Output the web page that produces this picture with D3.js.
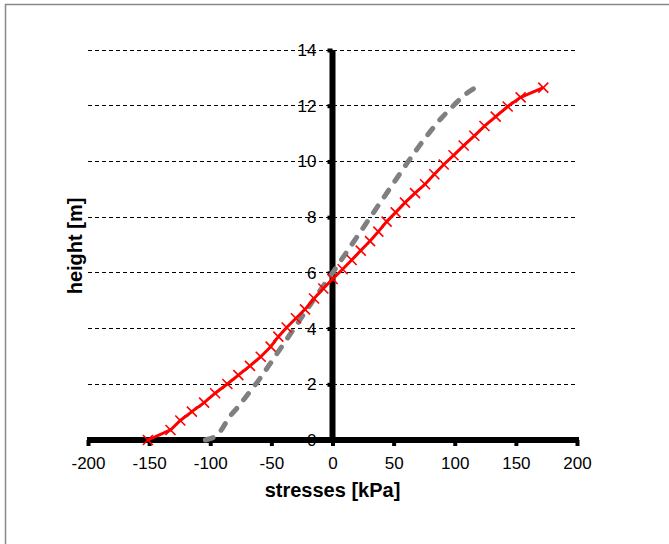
<!DOCTYPE html>
<html>
<head>
<meta charset="utf-8">
<script src="https://cdn.jsdelivr.net/npm/d3@7"></script>
<style>
  body { margin: 0; background: #fff; }
  svg { display: block; }
  svg text { font-family: "Liberation Sans", Arial, sans-serif; }
</style>
</head>
<body>
<svg id="chart" width="669" height="544"></svg>
<script>
// red series (with x markers)
const redStress = [-151, -132.5, -124.5, -115, -105, -96, -86, -77, -67.5, -58.7, -50.6, -44.3, -37.5, -29.9, -22.5, -15.1, -7.5, 0.1,
                   8.3, 15.7, 23.1, 30.7, 37.5, 44.3, 51.7, 59.3, 67.5, 75.7, 83.3, 91, 99, 107.3, 116, 124.3, 133.5, 143.3, 153.9, 172.4];
const redHeight = [0, 0.36, 0.7, 1.02, 1.34, 1.68, 2.01, 2.33, 2.66, 2.99, 3.35, 3.71, 4.04, 4.37, 4.69, 5.08, 5.44, 5.78,
                   6.13, 6.46, 6.8, 7.14, 7.48, 7.84, 8.17, 8.52, 8.86, 9.18, 9.54, 9.89, 10.22, 10.57, 10.92, 11.27, 11.61, 11.97, 12.3, 12.65];

// grey dashed series
const greyStress = [-104, -97, -92, -87.5, -83, -77, -70, -62, -47, -31.5, -16, 0, 15.5, 31, 46.5, 62, 76, 89, 100, 109, 118];
const greyHeight = [0, 0.1, 0.3, 0.6, 0.9, 1.2, 1.6, 2.05, 3.0, 4.0, 5.0, 6.0, 7.0, 8.0, 9.0, 10.0, 10.85, 11.55, 12.05, 12.42, 12.68];

const xTicks = [-200, -150, -100, -50, 0, 50, 100, 150, 200];
const yTicks = [0, 2, 4, 6, 8, 10, 12, 14];

const svg = d3.select("#chart");

// outer frame
svg.append("path")
    .attr("d", "M5.5,700 L5.5,4.5 L700,4.5")
    .attr("fill", "none")
    .attr("stroke", "#888")
    .attr("stroke-width", 1.5);

let x = d3.scaleLinear().domain([-200, 200]).range([88, 577]);
let y = d3.scaleLinear().domain([0, 14]).range([440, 50]);

// grid
svg.append("g").selectAll("line")
    .data(yTicks.filter(d => d > 0))
    .enter().append("line")
    .attr("x1", x(-200)).attr("x2", x(200))
    .attr("y1", d => y(d)).attr("y2", d => y(d))
    .attr("stroke", "#000")
    .attr("stroke-width", 1)
    .attr("stroke-dasharray", "4,3")
    .attr("shape-rendering", "crispEdges");

// y axis ticks + labels (domain drawn later, on top)
let yAxis = d3.axisLeft(y).tickValues(yTicks).tickSize(5).tickSizeOuter(0).tickPadding(11)
    .tickFormat(d => String(d));
let gy = svg.append("g")
    .attr("transform", "translate(" + x(0) + ",0)")
    .call(yAxis);
gy.select(".domain").remove();
gy.selectAll(".tick line").attr("stroke-width", 4).attr("stroke", "#000");
gy.selectAll(".tick text").style("font-size", "17px")
    .style("font-family", "'Liberation Sans', Arial, sans-serif").attr("fill", "#000");

// x axis
let xAxis = d3.axisBottom(x).tickValues(xTicks).tickSize(6).tickSizeOuter(0).tickPadding(11)
    .tickFormat(d => String(d));
let gx = svg.append("g")
    .attr("transform", "translate(0," + y(0) + ")")
    .call(xAxis);
gx.select(".domain").attr("stroke-width", 6).attr("stroke", "#000")
    .attr("d", "M" + (x(-200) - 1) + ",0H" + (x(200) + 2));
gx.selectAll(".tick line").attr("stroke-width", 4).attr("stroke", "#000");
gx.selectAll(".tick text").style("font-size", "17px")
    .style("font-family", "'Liberation Sans', Arial, sans-serif").attr("fill", "#000");

// y axis line
svg.append("line")
    .attr("x1", x(0)).attr("x2", x(0))
    .attr("y1", y(0)).attr("y2", y(14))
    .attr("stroke", "#000")
    .attr("stroke-width", 6);

// grey dashed line
let greyPts = greyStress.map((s, i) => [s, greyHeight[i]]);
svg.append("path")
    .datum(greyPts)
    .attr("fill", "none")
    .attr("stroke", "#808080")
    .attr("stroke-width", 5)
    .attr("stroke-linecap", "round")
    .attr("stroke-dasharray", "8,11")
    .attr("d", d3.line().x(d => x(d[0])).y(d => y(d[1])).curve(d3.curveMonotoneY));

// red line with x markers
let redPts = redStress.map((s, i) => [s, redHeight[i]]);
svg.append("path")
    .datum(redPts)
    .attr("fill", "none")
    .attr("stroke", "#ff0000")
    .attr("stroke-width", 3)
    .attr("d", d3.line().x(d => x(d[0])).y(d => y(d[1])));

svg.append("g").selectAll("path")
    .data(redPts)
    .enter().append("path")
    .attr("transform", d => "translate(" + x(d[0]) + "," + y(d[1]) + ")")
    .attr("d", "M-5,-5L5,5M-5,5L5,-5")
    .attr("stroke", "#ff0000")
    .attr("stroke-width", 1.6);

// titles
svg.append("text")
    .attr("x", x(0)).attr("y", 497)
    .attr("text-anchor", "middle")
    .style("font-size", "20px").style("font-weight", "bold")
    .text("stresses [kPa]");

svg.append("text")
    .attr("transform", "translate(82,246) rotate(-90)")
    .attr("text-anchor", "middle")
    .style("font-size", "20px").style("font-weight", "bold")
    .text("height [m]");
</script>
</body>
</html>
